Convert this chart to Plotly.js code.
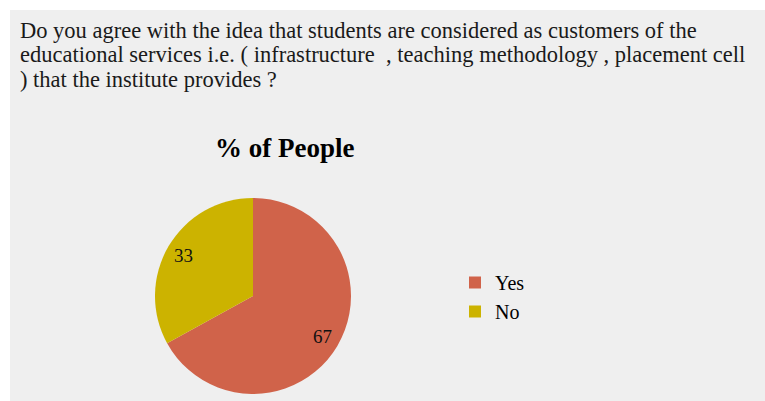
<!DOCTYPE html>
<html><head><meta charset="utf-8">
<script src="https://cdn.plot.ly/plotly-3.0.1.min.js"></script>
<style>html,body{margin:0;padding:0;background:#fff;}#c{width:765px;height:401px;}</style>
</head><body><div id="c"></div>
<script>
const categories = ["Yes", "No"];
const percentOfPeople = [67, 33];
const colors = ["#d0634a", "#ccb300"];
const questionLines = [
  "Do you agree with the idea that students are considered as customers of the",
  "educational services i.e. ( infrastructure  , teaching methodology , placement cell",
  ") that the institute provides ?"
];
const chartTitle = "% of People";

const W = 765, H = 401;
const px = x => x / W, py = y => 1 - y / H;
const serif = "Liberation Serif, Times New Roman, serif";

// pie geometry (paper domain)
const dom = {x: [px(155), px(351)], y: [py(399), py(193)]};

// data labels placed along each slice's mid-angle
const total = percentOfPeople.reduce((a, b) => a + b, 0);
const labelAnn = [];
{
  const cx = (dom.x[0] + dom.x[1]) / 2 * W, cy = (1 - (dom.y[0] + dom.y[1]) / 2) * H;
  const R = Math.min((dom.x[1] - dom.x[0]) * W, (dom.y[1] - dom.y[0]) * H) / 2;
  let start = 0;
  percentOfPeople.forEach(v => {
    const mid = (start + v / 2) / total * 2 * Math.PI; start += v;
    const r = 0.82 * R;
    labelAnn.push({text: String(v), xref: "paper", yref: "paper",
      x: px(cx + r * Math.sin(mid)), y: py(cy - r * Math.cos(mid)),
      xanchor: "center", yanchor: "middle", showarrow: false,
      font: {family: serif, size: 19, color: "#111"}});
  });
}

const qAnn = questionLines.map((t, i) => ({
  text: t, xref: "paper", yref: "paper", x: px(18), y: py(30 + i * 24.5),
  xanchor: "left", yanchor: "middle", align: "left", showarrow: false,
  font: {family: serif, size: 22.5, color: "#1a1a1a"}
}));

Plotly.newPlot("c", [{
  type: "pie",
  labels: categories,
  values: percentOfPeople,
  sort: false,
  direction: "clockwise",
  rotation: 0,
  marker: {colors: colors, line: {width: 0}},
  textinfo: "none",
  domain: dom,
  hoverinfo: "label+value"
}], {
  width: W, height: H,
  margin: {l: 0, r: 0, t: 0, b: 0},
  paper_bgcolor: "#ffffff",
  showlegend: true,
  legend: {x: px(455), y: py(263), xanchor: "left", yanchor: "top",
           font: {family: serif, size: 20, color: "#000"}, bgcolor: "rgba(0,0,0,0)",
           itemwidth: 30},
  shapes: [{type: "rect", xref: "paper", yref: "paper", layer: "below",
            x0: px(10), x1: 1, y0: 0, y1: py(10),
            fillcolor: "#efefef", line: {width: 0}}],
  annotations: qAnn.concat(labelAnn, [
    {text: "<b>" + chartTitle + "</b>", xref: "paper", yref: "paper", x: px(284), y: py(148),
     xanchor: "center", yanchor: "middle", showarrow: false,
     font: {family: serif, size: 27, color: "#000"}}
  ])
}, {displayModeBar: false, staticPlot: true});
</script>
</body></html>
